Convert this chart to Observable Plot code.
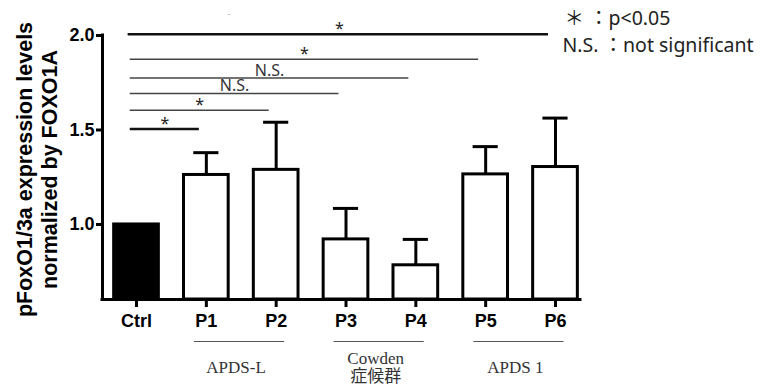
<!DOCTYPE html>
<html>
<head>
<meta charset="utf-8">
<script src="https://cdn.jsdelivr.net/npm/d3@7"></script>
<script src="https://cdn.jsdelivr.net/npm/@observablehq/plot@0.6"></script>
<style>
  html, body { margin: 0; padding: 0; background: white; overflow: hidden; }
</style>
</head>
<body>
<div id="chart"></div>
<script>
// ---- data ----
const categories = ["Ctrl", "P1", "P2", "P3", "P4", "P5", "P6"];
const values     = [1.0, 1.262, 1.289, 0.921, 0.784, 1.265, 1.304];
const errors     = [0, 0.118, 0.252, 0.164, 0.137, 0.147, 0.259];
const yTicks     = [1.0, 1.5, 2.0];
const yTitle     = "pFoxO1/3a expression levels\nnormalized by FOXO1A";

// significance comparisons: Ctrl vs target
const sigTarget  = [1, 2, 3, 4, 5, 6];
const sigLevel   = [1.505, 1.605, 1.693, 1.775, 1.874, 2.007];
const sigLabel   = ["*", "*", "N.S.", "N.S.", "*", "*"];

// patient groups
const groupNames = ["APDS-L", "Cowden\n症候群", "APDS 1"];
const groupFirst = [1, 3, 5];
const groupLast  = [2, 4, 6];

const legendLines = ["＊ ：p<0.05", "N.S. ：not significant"];

// ---- chart ----
const yMin = 0.603;
const idx = d3.range(categories.length);
const sigIdx = d3.range(sigTarget.length);
const grpIdx = d3.range(groupNames.length);
const half = 0.32, cap = 0.18;
const sigStart = -0.09;
const sigEnd = i => sigTarget[i] - 0.1;

const chart = Plot.plot({
  width: 776,
  height: 385,
  marginLeft: 102,
  marginRight: 196,
  marginTop: 35,
  marginBottom: 86,
  style: {fontFamily: "'Liberation Sans', Arial, sans-serif", background: "white", color: "black", overflow: "visible"},
  x: {domain: [-0.487, 6.358]},
  y: {domain: [yMin, 2.0]},
  marks: [
    // bars
    Plot.rectY(idx, {
      x1: i => i - half, x2: i => i + half,
      y1: yMin, y2: i => values[i],
      fill: i => i === 0 ? "black" : "white",
      stroke: "black", strokeWidth: 3
    }),
    // error bars
    Plot.ruleX(idx.filter(i => errors[i] > 0), {
      x: i => i, y1: i => values[i], y2: i => values[i] + errors[i],
      stroke: "black", strokeWidth: 3
    }),
    Plot.ruleY(idx.filter(i => errors[i] > 0), {
      y: i => values[i] + errors[i], x1: i => i - cap, x2: i => i + cap,
      stroke: "black", strokeWidth: 3
    }),
    // axes lines
    Plot.ruleY([yMin], {stroke: "black", strokeWidth: 3, strokeLinecap: "square"}),
    Plot.ruleX([-0.487], {stroke: "black", strokeWidth: 3, strokeLinecap: "square"}),
    Plot.axisY(yTicks, {
      tickSize: 6, tickPadding: 2, strokeWidth: 3,
      tickFormat: d => d.toFixed(1), fontSize: 18, fontWeight: "bold", label: null
    }),
    Plot.axisX(idx, {
      tickSize: 8, tickPadding: 7, strokeWidth: 3,
      tickFormat: i => categories[i], fontSize: 18, fontWeight: "bold", label: null
    }),
    // y title
    Plot.text([yTitle], {
      frameAnchor: "left", rotate: -90, dx: -66, dy: 2,
      fontSize: 21.5, fontWeight: "bold", lineHeight: 1.16,
      textAnchor: "middle", lineAnchor: "middle"
    }),
    // significance lines
    Plot.ruleY(sigIdx, {
      y: i => sigLevel[i],
      x1: i => i === sigIdx.length - 1 ? sigStart - 0.03 : sigStart,
      x2: sigEnd,
      stroke: i => (i === 0 || i === sigIdx.length - 1) ? "#111" : "#444",
      strokeWidth: i => (i === 0 || i === sigIdx.length - 1) ? 2.5 : 1.5
    }),
    Plot.text(sigIdx.filter(i => sigLabel[i] === "*"), {
      x: i => (sigStart + sigEnd(i)) / 2, y: i => sigLevel[i], text: i => sigLabel[i],
      fontFamily: "'Noto Sans', sans-serif", fontSize: 16, fill: "#222",
      lineAnchor: "bottom", dy: 0
    }),
    Plot.text(sigIdx.filter(i => sigLabel[i] !== "*"), {
      x: i => (sigStart + sigEnd(i)) / 2, y: i => sigLevel[i], text: i => sigLabel[i],
      fontFamily: "'Noto Sans', sans-serif", fontSize: 16, fill: "#333",
      lineAnchor: "bottom", dy: -2.5
    }),
    // group lines and labels
    Plot.ruleY(grpIdx, {
      y: yMin, dy: 42,
      x1: i => groupFirst[i] - 0.17, x2: i => groupLast[i] + 0.12,
      stroke: "#555", strokeWidth: 1
    }),
    Plot.text(grpIdx, {
      x: i => (groupFirst[i] - 0.17 + groupLast[i] + 0.12) / 2 - 0.05,
      text: i => groupNames[i],
      frameAnchor: "bottom", dy: 67.5, lineAnchor: "middle", lineHeight: 1.06,
      fontFamily: "'Liberation Serif', 'Noto Sans CJK JP', serif", fontSize: 17, fill: "#333"
    }),
    // legend
    Plot.text([legendLines[0]], {
      frameAnchor: "top-left", dx: 462, dy: -17, textAnchor: "start", lineAnchor: "middle",
      fontFamily: "'Noto Sans', 'Noto Sans CJK JP', sans-serif", fontSize: 19.5, fill: "#222"
    }),
    Plot.text([legendLines[1]], {
      frameAnchor: "top-left", dx: 460, dy: 10.5, textAnchor: "start", lineAnchor: "middle",
      fontFamily: "'Noto Sans', 'Noto Sans CJK JP', sans-serif", fontSize: 19.5, fill: "#222"
    }),
    // small stray mark
    Plot.text(["-"], {
      frameAnchor: "top-left", dx: 125, dy: -25, fontSize: 9, fill: "#aaa"
    })
  ]
});
document.getElementById("chart").appendChild(chart);
</script>
</body>
</html>
